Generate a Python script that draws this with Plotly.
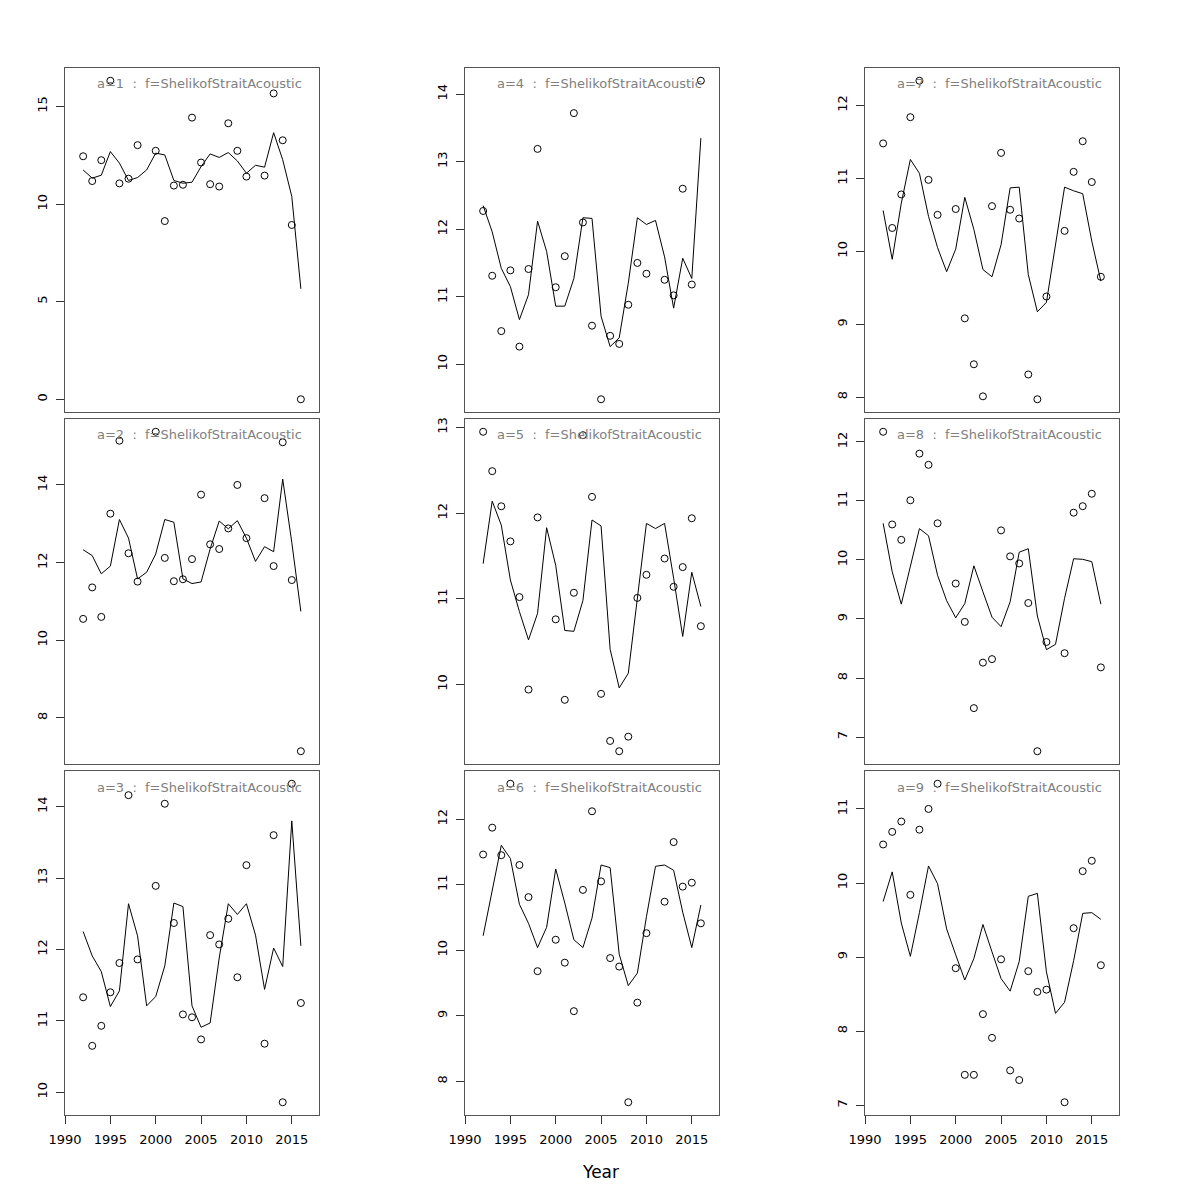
import plotly.graph_objects as go

years = list(range(1992, 2017))
N = None

# observed (points) and fitted (line) per age panel
obs_a1 = [12.45, 11.18, 12.25, 16.32, 11.06, 11.30, 13.02, N, 12.73, 9.13, 10.95, 10.99, 14.43, 12.13, 11.02, 10.90, 14.14, 12.73, 11.41, N, 11.46, 15.67, 13.27, 8.93, 0.0]
fit_a1 = [11.75, 11.33, 11.48, 12.69, 12.10, 11.21, 11.36, 11.75, 12.61, 12.52, 11.21, 11.07, 11.12, 11.92, 12.57, 12.39, 12.64, 12.21, 11.58, 11.99, 11.89, 13.66, 12.27, 10.39, 5.66]

obs_a2 = [10.55, 11.36, 10.60, 13.26, 15.14, 12.24, 11.51, N, 15.37, 12.12, 11.52, 11.57, 12.09, 13.75, 12.47, 12.35, 12.88, 14.00, 12.63, N, 13.66, 11.91, 15.10, 11.55, 7.14]
fit_a2 = [12.33, 12.18, 11.71, 11.91, 13.11, 12.63, 11.58, 11.75, 12.22, 13.11, 13.04, 11.58, 11.46, 11.50, 12.35, 13.07, 12.87, 13.08, 12.63, 12.03, 12.41, 12.28, 14.15, 12.52, 10.74]

obs_a3 = [11.33, 10.65, 10.93, 11.40, 11.81, 14.16, 11.86, N, 12.89, 14.04, 12.37, 11.09, 11.05, 10.74, 12.20, 12.07, 12.43, 11.61, 13.18, N, 10.68, 13.60, 9.86, 14.32, 11.25]
fit_a3 = [12.25, 11.91, 11.69, 11.20, 11.42, 12.64, 12.19, 11.21, 11.34, 11.77, 12.65, 12.60, 11.21, 10.91, 10.97, 11.88, 12.64, 12.49, 12.64, 12.20, 11.44, 12.02, 11.76, 13.80, 12.05]

obs_a4 = [12.27, 11.31, 10.49, 11.39, 10.26, 11.41, 13.19, N, 11.14, 11.60, 13.72, 12.10, 10.57, 9.48, 10.42, 10.30, 10.88, 11.50, 11.34, N, 11.25, 11.02, 12.60, 11.18, 14.20]
fit_a4 = [12.35, 11.96, 11.42, 11.15, 10.66, 11.03, 12.12, 11.67, 10.86, 10.86, 11.27, 12.17, 12.16, 10.71, 10.26, 10.39, 11.20, 12.17, 12.07, 12.13, 11.59, 10.83, 11.57, 11.27, 13.35]

obs_a5 = [12.95, 12.49, 12.08, 11.67, 11.02, 9.94, 11.95, N, 10.76, 9.82, 11.07, 12.91, 12.19, 9.89, 9.34, 9.22, 9.39, 11.01, 11.28, N, 11.47, 11.14, 11.37, 11.94, 10.68]
fit_a5 = [11.41, 12.14, 11.86, 11.22, 10.85, 10.52, 10.83, 11.83, 11.39, 10.63, 10.62, 10.98, 11.92, 11.85, 10.41, 9.96, 10.13, 11.00, 11.88, 11.82, 11.88, 11.24, 10.56, 11.31, 10.91]

obs_a6 = [11.46, 11.87, 11.45, 12.54, 11.30, 10.81, 9.68, N, 10.16, 9.81, 9.07, 10.92, 12.12, 11.05, 9.88, 9.75, 7.68, 9.20, 10.26, N, 10.74, 11.65, 10.97, 11.03, 10.41]
fit_a6 = [10.22, 10.90, 11.60, 11.40, 10.70, 10.41, 10.04, 10.35, 11.24, 10.72, 10.16, 10.04, 10.49, 11.30, 11.26, 9.94, 9.46, 9.65, 10.51, 11.28, 11.30, 11.22, 10.58, 10.04, 10.69]

obs_a7 = [11.48, 10.32, 10.78, 11.84, 12.34, 10.98, 10.50, N, 10.58, 9.08, 8.45, 8.01, 10.62, 11.35, 10.57, 10.45, 8.31, 7.97, 9.38, N, 10.28, 11.09, 11.51, 10.95, 9.65]
fit_a7 = [10.56, 9.89, 10.66, 11.26, 11.07, 10.48, 10.05, 9.72, 10.03, 10.74, 10.30, 9.75, 9.65, 10.09, 10.87, 10.88, 9.68, 9.17, 9.30, 10.07, 10.88, 10.83, 10.79, 10.14, 9.59]

obs_a8 = [12.17, 10.60, 10.34, 11.01, 11.80, 11.61, 10.62, N, 9.60, 8.95, 7.49, 8.26, 8.32, 10.50, 10.06, 9.94, 9.27, 6.76, 8.61, N, 8.42, 10.80, 10.91, 11.12, 8.18]
fit_a8 = [10.62, 9.80, 9.25, 9.88, 10.53, 10.41, 9.74, 9.31, 9.02, 9.26, 9.90, 9.46, 9.03, 8.87, 9.29, 10.13, 10.19, 9.05, 8.48, 8.57, 9.35, 10.02, 10.01, 9.97, 9.25]

obs_a9 = [10.52, 10.69, 10.83, 9.84, 10.72, 11.00, 11.34, N, 8.85, 7.41, 7.41, 8.23, 7.91, 8.97, 7.47, 7.34, 8.81, 8.53, 8.56, N, 7.04, 9.39, 10.16, 10.30, 8.89]
fit_a9 = [9.75, 10.15, 9.46, 9.01, 9.60, 10.23, 9.99, 9.38, 9.03, 8.69, 8.98, 9.44, 9.07, 8.71, 8.54, 8.94, 9.82, 9.86, 8.80, 8.24, 8.39, 8.95, 9.59, 9.60, 9.51]

ages = [1, 2, 3, 4, 5, 6, 7, 8, 9]
fleet = "ShelikofStraitAcoustic"
y_ticks = {
    1: [0, 5, 10, 15], 2: [8, 10, 12, 14], 3: [10, 11, 12, 13, 14],
    4: [10, 11, 12, 13, 14], 5: [10, 11, 12, 13], 6: [8, 9, 10, 11, 12],
    7: [8, 9, 10, 11, 12], 8: [7, 8, 9, 10, 11, 12], 9: [7, 8, 9, 10, 11],
}
x_ticks = [1990, 1995, 2000, 2005, 2010, 2015]
x_range = [1990, 2018]
x_label = "Year"

obs = {1: obs_a1, 2: obs_a2, 3: obs_a3, 4: obs_a4, 5: obs_a5, 6: obs_a6, 7: obs_a7, 8: obs_a8, 9: obs_a9}
fit = {1: fit_a1, 2: fit_a2, 3: fit_a3, 4: fit_a4, 5: fit_a5, 6: fit_a6, 7: fit_a7, 8: fit_a8, 9: fit_a9}

OFF = 8            # page body margin
W = H = 1192       # figure size so the page fits the 1200 window
col_px = [(65, 319), (465, 719), (865, 1119)]
row_px = [(68, 412), (419, 764), (771, 1115)]
FONT = "DejaVu Sans"


def px_x(p):
    return (p - OFF) / W


def px_y(p):
    return 1 - (p - OFF) / H


fig = go.Figure()
layout = dict(width=W, height=H, margin=dict(l=0, r=0, t=0, b=0, pad=0, autoexpand=False),
              paper_bgcolor="white", plot_bgcolor="white", showlegend=False,
              font=dict(family=FONT, color="black", size=13))
annotations = []

for i, a in enumerate(ages):
    c = i // 3
    r = i % 3
    k = i + 1
    xa = "x" if k == 1 else f"x{k}"
    ya = "y" if k == 1 else f"y{k}"
    o = obs[a]
    f = fit[a]
    vals = [v for v in o + f if v is not None]
    lo, hi = min(vals), max(vals)
    pad = 0.04 * (hi - lo)
    fig.add_trace(go.Scatter(x=years, y=f, mode="lines", line=dict(color="black", width=1),
                             xaxis=xa, yaxis=ya, hoverinfo="skip"))
    fig.add_trace(go.Scatter(x=years, y=o, mode="markers",
                             marker=dict(symbol="circle-open", size=7, color="black", line=dict(width=1)),
                             xaxis=xa, yaxis=ya, hoverinfo="skip"))
    x0, x1 = col_px[c]
    y0, y1 = row_px[r]
    bottom = (r == 2)
    layout[f"xaxis{k if k > 1 else ''}"] = dict(
        domain=[px_x(x0), px_x(x1)], range=x_range, anchor=ya, automargin=False,
        showline=True, mirror=True, linecolor="#555555", linewidth=1,
        showgrid=False, zeroline=False,
        tickvals=x_ticks if bottom else [], ticks="outside" if bottom else "",
        ticklen=8, tickcolor="#333333", showticklabels=bottom, ticklabelstandoff=4,
        tickfont=dict(family=FONT, size=13, color="black"),
    )
    layout[f"yaxis{k if k > 1 else ''}"] = dict(
        domain=[px_y(y1), px_y(y0)], range=[lo - pad, hi + pad], anchor=xa, automargin=False,
        showline=True, mirror=True, linecolor="#555555", linewidth=1,
        showgrid=False, zeroline=False, tickvals=y_ticks[a], ticks="outside",
        ticklen=8, tickcolor="#333333", tickangle=-90, ticklabelstandoff=4,
        tickfont=dict(family=FONT, size=13, color="black"),
    )
    annotations.append(dict(
        text=f"a={a}  :  f={fleet}", xref="paper", yref="paper",
        x=px_x(x1 - 15), y=px_y(y0 + 16), xanchor="right", yanchor="middle",
        showarrow=False, font=dict(family=FONT, size=13, color="#808080"),
    ))

annotations.append(dict(text=x_label, xref="paper", yref="paper", x=px_x(600), y=px_y(1172),
                        xanchor="center", yanchor="middle", showarrow=False,
                        font=dict(family=FONT, size=17, color="black")))
layout["annotations"] = annotations
fig.update_layout(**layout)
fig.write_html("out.html")
